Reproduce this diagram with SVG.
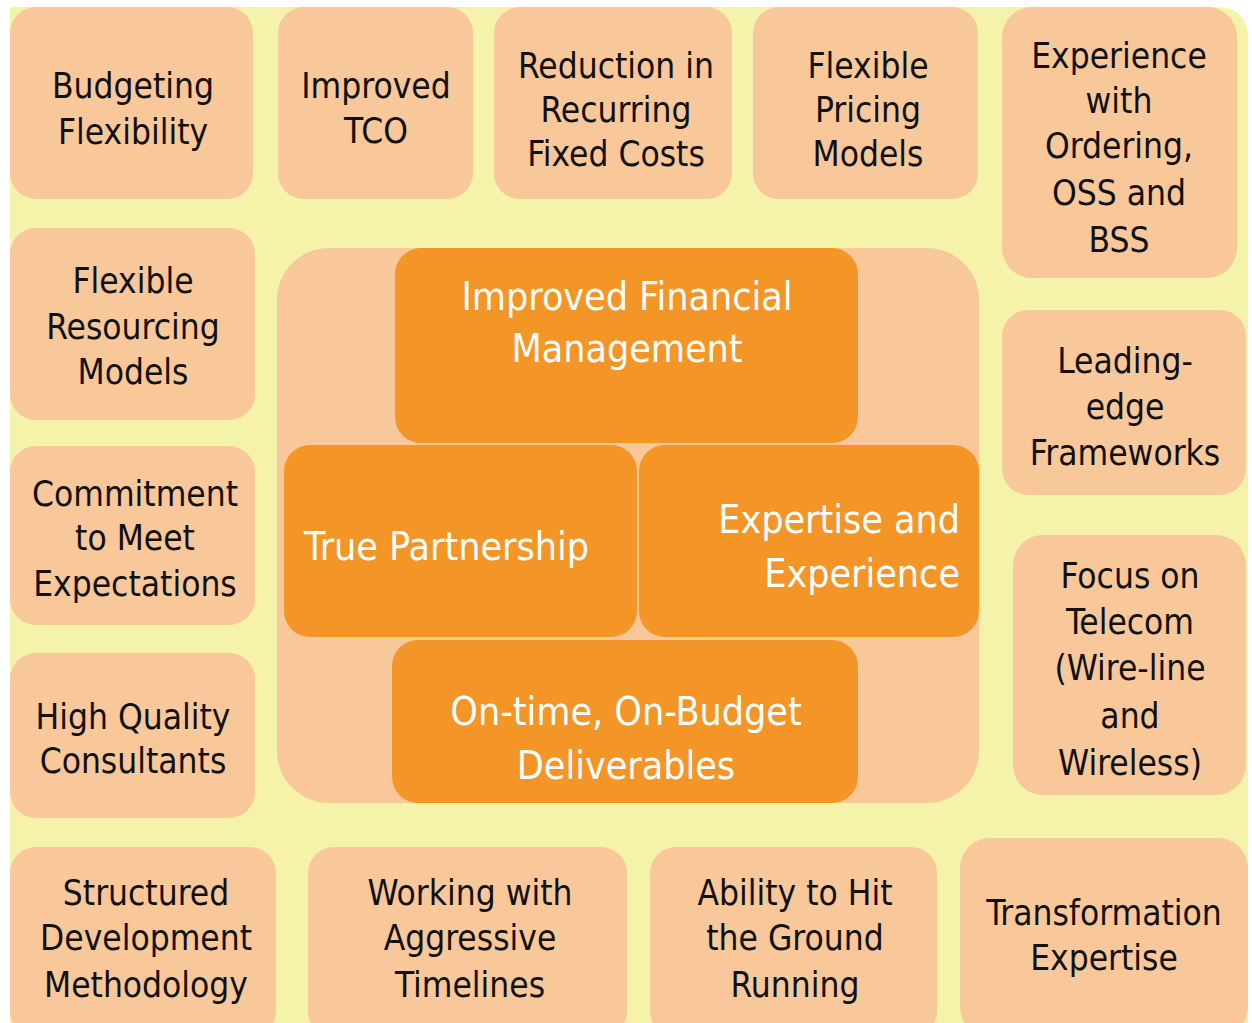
<svg xmlns="http://www.w3.org/2000/svg" width="1252" height="1023" viewBox="0 0 1252 1023">
<style>
.lt{fill:#F8C89B}
.dk{fill:#F39627}
.t{font-family:"DejaVu Sans Condensed","DejaVu Sans",sans-serif;font-size:35px;fill:#111;text-anchor:middle}
.w{font-family:"DejaVu Sans Condensed","DejaVu Sans",sans-serif;font-size:39px;fill:#fff;text-anchor:middle}
.w.s{text-anchor:start}
.w.e{text-anchor:end}
</style>
<rect width="1252" height="1023" fill="#fff"/>
<path d="M10,7 H1216 Q1248,7 1248,39 V1023 H10 Z" fill="#F5F2A9"/>
<g id="budgeting"><rect class="lt" x="10" y="7" width="243" height="192" rx="26"/><text class="t" x="133" y="98">Budgeting</text><text class="t" x="133" y="144">Flexibility</text></g>
<g id="tco"><rect class="lt" x="278" y="7" width="195" height="192" rx="26"/><text class="t" x="376" y="98">Improved</text><text class="t" x="376" y="143">TCO</text></g>
<g id="reduction"><rect class="lt" x="494" y="7" width="238" height="192" rx="26"/><text class="t" x="616" y="78">Reduction in</text><text class="t" x="616" y="122">Recurring</text><text class="t" x="616" y="166">Fixed Costs</text></g>
<g id="pricing"><rect class="lt" x="753" y="7" width="225" height="192" rx="26"/><text class="t" x="868" y="78">Flexible</text><text class="t" x="868" y="122">Pricing</text><text class="t" x="868" y="166">Models</text></g>
<g id="ordering"><rect class="lt" x="1002" y="7" width="235" height="271" rx="30"/><text class="t" x="1119" y="68">Experience</text><text class="t" x="1119" y="113">with</text><text class="t" x="1119" y="158">Ordering,</text><text class="t" x="1119" y="205">OSS and</text><text class="t" x="1119" y="252">BSS</text></g>
<g id="resourcing"><rect class="lt" x="10" y="228" width="245" height="192" rx="26"/><text class="t" x="133" y="293">Flexible</text><text class="t" x="133" y="339">Resourcing</text><text class="t" x="133" y="384">Models</text></g>
<g id="commitment"><rect class="lt" x="10" y="446" width="245" height="179" rx="26"/><text class="t" x="135" y="506">Commitment</text><text class="t" x="135" y="550">to Meet</text><text class="t" x="135" y="596">Expectations</text></g>
<g id="consultants"><rect class="lt" x="10" y="653" width="245" height="165" rx="26"/><text class="t" x="133" y="729">High Quality</text><text class="t" x="133" y="773">Consultants</text></g>
<g id="frameworks"><rect class="lt" x="1002" y="310" width="244" height="185" rx="26"/><text class="t" x="1125" y="373">Leading-</text><text class="t" x="1125" y="419">edge</text><text class="t" x="1125" y="465">Frameworks</text></g>
<g id="telecom"><rect class="lt" x="1013" y="535" width="233" height="260" rx="30"/><text class="t" x="1130" y="588">Focus on</text><text class="t" x="1130" y="634">Telecom</text><text class="t" x="1130" y="680">(Wire-line</text><text class="t" x="1130" y="728">and</text><text class="t" x="1130" y="775">Wireless)</text></g>
<g id="structured"><rect class="lt" x="10" y="847" width="266" height="190" rx="26"/><text class="t" x="146" y="905">Structured</text><text class="t" x="146" y="950">Development</text><text class="t" x="146" y="997">Methodology</text></g>
<g id="timelines"><rect class="lt" x="308" y="847" width="319" height="190" rx="26"/><text class="t" x="470" y="905">Working with</text><text class="t" x="470" y="950">Aggressive</text><text class="t" x="470" y="997">Timelines</text></g>
<g id="ground"><rect class="lt" x="650" y="847" width="287" height="190" rx="26"/><text class="t" x="795" y="905">Ability to Hit</text><text class="t" x="795" y="950">the Ground</text><text class="t" x="795" y="997">Running</text></g>
<g id="transformation"><rect class="lt" x="960" y="838" width="288" height="199" rx="30"/><text class="t" x="1104" y="925">Transformation</text><text class="t" x="1104" y="970">Expertise</text></g>
<g id="core"><rect class="lt" x="277" y="248" width="702" height="555" rx="52"/></g>
<g id="financial"><rect class="dk" x="395" y="248" width="463" height="195" rx="26"/><text class="w" x="627" y="310">Improved Financial</text><text class="w" x="627" y="362">Management</text></g>
<g id="partnership"><rect class="dk" x="284" y="445" width="353" height="192" rx="26"/><text class="w s" x="304" y="560">True Partnership</text></g>
<g id="expertise"><rect class="dk" x="639" y="445" width="340" height="192" rx="26"/><text class="w e" x="960" y="533">Expertise and</text><text class="w e" x="960" y="587">Experience</text></g>
<g id="ontime"><rect class="dk" x="392" y="640" width="466" height="163" rx="26"/><text class="w" x="626" y="725">On-time, On-Budget</text><text class="w" x="626" y="779">Deliverables</text></g>
<g id="connectors"></g>
</svg>
